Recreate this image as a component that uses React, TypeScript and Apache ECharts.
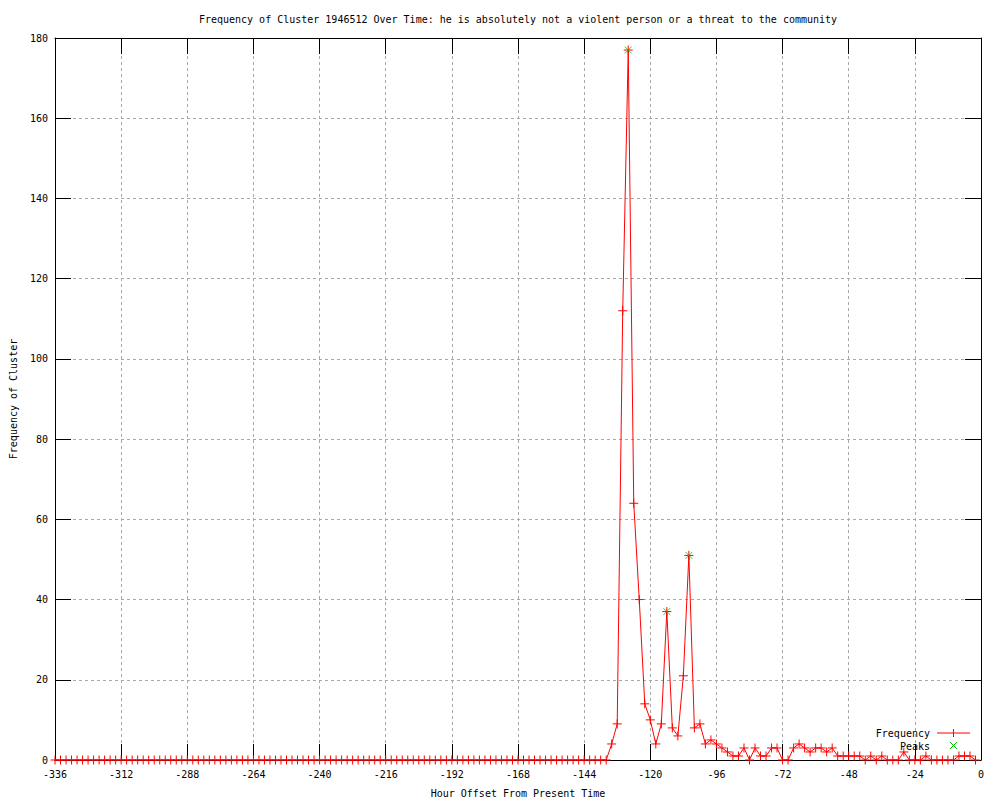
import React, { useEffect, useRef } from "react";
import * as echarts from "echarts";

const TITLE =
  "Frequency of Cluster 1946512 Over Time: he is absolutely not a violent person or a threat to the community";
const X_NAME = "Hour Offset From Present Time";
const Y_NAME = "Frequency of Cluster";

const hours = [
  -336, -334, -332, -330, -328, -326, -324, -322, -320, -318, -316, -314, -312, -310, -308, -306,
  -304, -302, -300, -298, -296, -294, -292, -290, -288, -286, -284, -282, -280, -278, -276, -274,
  -272, -270, -268, -266, -264, -262, -260, -258, -256, -254, -252, -250, -248, -246, -244, -242,
  -240, -238, -236, -234, -232, -230, -228, -226, -224, -222, -220, -218, -216, -214, -212, -210,
  -208, -206, -204, -202, -200, -198, -196, -194, -192, -190, -188, -186, -184, -182, -180, -178,
  -176, -174, -172, -170, -168, -166, -164, -162, -160, -158, -156, -154, -152, -150, -148, -146,
  -144, -142, -140, -138, -136, -134, -132, -130, -128, -126, -124, -122, -120, -118, -116, -114,
  -112, -110, -108, -106, -104, -102, -100, -98, -96, -94, -92, -90, -88, -86, -84, -82,
  -80, -78, -76, -74, -72, -70, -68, -66, -64, -62, -60, -58, -56, -54, -52, -50,
  -48, -46, -44, -42, -40, -38, -36, -34, -32, -30, -28, -26, -24, -22, -20, -18,
  -16, -14, -12, -10, -8, -6, -4, -2,
];

const frequency = [
  0, 0, 0, 0, 0, 0, 0, 0, 0, 0, 0, 0, 0, 0, 0, 0,
  0, 0, 0, 0, 0, 0, 0, 0, 0, 0, 0, 0, 0, 0, 0, 0,
  0, 0, 0, 0, 0, 0, 0, 0, 0, 0, 0, 0, 0, 0, 0, 0,
  0, 0, 0, 0, 0, 0, 0, 0, 0, 0, 0, 0, 0, 0, 0, 0,
  0, 0, 0, 0, 0, 0, 0, 0, 0, 0, 0, 0, 0, 0, 0, 0,
  0, 0, 0, 0, 0, 0, 0, 0, 0, 0, 0, 0, 0, 0, 0, 0,
  0, 0, 0, 0, 0, 4, 9, 112, 177, 64, 40, 14, 10, 4, 9, 37,
  8, 6, 21, 51, 8, 9, 4, 5, 4, 3, 2, 1, 1, 3, 0, 3,
  1, 1, 3, 3, 0, 0, 3, 4, 3, 2, 3, 3, 2, 3, 1, 1,
  1, 1, 1, 0, 1, 0, 1, 0, 0, 0, 2, 0, 0, 0, 1, 0,
  0, 0, 0, 0, 1, 1, 1, 0,
];

const peakHours = [-128, -114, -106];
const peakValues = [177, 37, 51];

const X_MIN = -336;
const X_MAX = 0;
const X_STEP = 24;
const Y_MIN = 0;
const Y_MAX = 180;
const Y_STEP = 20;

const FONT = "'DejaVu Sans Mono', 'Liberation Mono', monospace";
const RED = "#ff0000";
const GREEN = "#00c000";
const PLUS = "path://M5,0L5,10M0,5L10,5";
const CROSS = "path://M0,0L10,10M10,0L0,10";

export default function App() {
  const ref = useRef<HTMLDivElement>(null);

  useEffect(() => {
    if (!ref.current) return;
    const chart = echarts.init(ref.current, null, { renderer: "svg" });

    const lineData = hours.map((h, i) => [h, frequency[i]]);
    const peakData = peakHours.map((h, i) => [h, peakValues[i]]);

    const tickCommon = {
      show: true,
      inside: true,
      length: 16,
      lineStyle: { color: "#000", width: 1 },
    };
    const axisLineCommon = { show: true, onZero: false, lineStyle: { color: "#000", width: 1 } };
    const splitCommon = {
      show: true,
      lineStyle: { color: "#a8a8a8", width: 1, type: [3, 3] as any },
    };
    const labelCommon = { color: "#000", fontFamily: FONT, fontSize: 10 };

    chart.setOption({
      animation: false,
      backgroundColor: "#fff",
      grid: {
        left: 55,
        right: 19,
        top: 38,
        bottom: 40,
        containLabel: false,
        outerBoundsMode: "none",
      },
      xAxis: [
        {
          type: "value",
          position: "bottom",
          min: X_MIN,
          max: X_MAX,
          interval: X_STEP,
          name: X_NAME,
          nameLocation: "middle",
          nameGap: 28,
          nameTextStyle: { ...labelCommon },
          axisLine: axisLineCommon,
          axisTick: tickCommon,
          axisLabel: { ...labelCommon, margin: 9 },
          splitLine: splitCommon,
          z: 2,
        },
        {
          type: "value",
          position: "top",
          min: X_MIN,
          max: X_MAX,
          interval: X_STEP,
          axisLine: axisLineCommon,
          axisTick: tickCommon,
          axisLabel: { show: false },
          splitLine: { show: false },
          z: 2,
        },
      ],
      yAxis: [
        {
          type: "value",
          position: "left",
          min: Y_MIN,
          max: Y_MAX,
          interval: Y_STEP,
          name: Y_NAME,
          nameLocation: "middle",
          nameGap: 37,
          nameRotate: 90,
          nameTextStyle: { ...labelCommon },
          axisLine: axisLineCommon,
          axisTick: tickCommon,
          axisLabel: { ...labelCommon, margin: 7 },
          splitLine: splitCommon,
          z: 2,
        },
        {
          type: "value",
          position: "right",
          min: Y_MIN,
          max: Y_MAX,
          interval: Y_STEP,
          axisLine: axisLineCommon,
          axisTick: tickCommon,
          axisLabel: { show: false },
          splitLine: { show: false },
          z: 2,
        },
      ],
      series: [
        {
          name: "Frequency",
          type: "line",
          xAxisIndex: 0,
          yAxisIndex: 0,
          data: lineData,
          showAllSymbol: true,
          symbol: PLUS,
          symbolSize: 9,
          lineStyle: { color: RED, width: 1 },
          itemStyle: { color: RED, borderColor: RED, borderWidth: 1 },
          z: 3,
        },
        {
          name: "Peaks",
          type: "scatter",
          xAxisIndex: 0,
          yAxisIndex: 0,
          data: peakData,
          symbol: CROSS,
          symbolSize: 7,
          itemStyle: { color: GREEN, borderColor: GREEN, borderWidth: 1 },
          z: 4,
        },
      ],
      graphic: [
        {
          type: "text",
          x: 518,
          y: 19,
          style: {
            text: TITLE,
            fill: "#000",
            font: `10px ${FONT}`,
            textAlign: "center",
            textVerticalAlign: "middle",
          },
        },
        {
          type: "text",
          x: 930,
          y: 733,
          style: {
            text: "Frequency",
            fill: "#000",
            font: `10px ${FONT}`,
            textAlign: "right",
            textVerticalAlign: "middle",
          },
        },
        {
          type: "line",
          shape: { x1: 937, y1: 733, x2: 970, y2: 733 },
          style: { stroke: RED, lineWidth: 1 },
        },
        {
          type: "line",
          shape: { x1: 953.5, y1: 729, x2: 953.5, y2: 737 },
          style: { stroke: RED, lineWidth: 1 },
        },
        {
          type: "text",
          x: 930,
          y: 746,
          style: {
            text: "Peaks",
            fill: "#000",
            font: `10px ${FONT}`,
            textAlign: "right",
            textVerticalAlign: "middle",
          },
        },
        {
          type: "line",
          shape: { x1: 950, y1: 742, x2: 957, y2: 749 },
          style: { stroke: GREEN, lineWidth: 1 },
        },
        {
          type: "line",
          shape: { x1: 957, y1: 742, x2: 950, y2: 749 },
          style: { stroke: GREEN, lineWidth: 1 },
        },
      ],
    });

    return () => chart.dispose();
  }, []);

  return (
    <div
      ref={ref}
      style={{ position: "absolute", left: 0, top: 0, width: 1000, height: 800, background: "#fff" }}
    />
  );
}
